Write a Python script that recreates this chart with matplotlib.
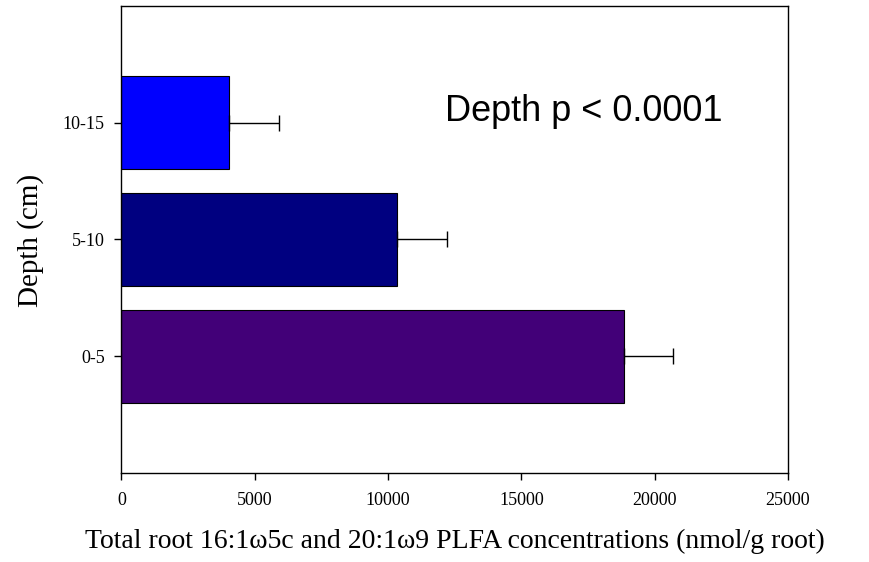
import matplotlib.pyplot as plt

depths = ['0-5', '5-10', '10-15']
plfa = [18840, 10320, 4045]
plfa_err = [1860, 1880, 1865]
bar_colors = ['#420078', '#000080', '#0000ff']

fig = plt.figure(figsize=(8.69, 5.62), dpi=100)
ax = fig.add_axes([0.1398, 0.1584, 0.767, 0.8309])

pos = list(range(len(depths)))
ax.barh(pos, plfa, height=0.8, color=bar_colors, edgecolor='black', linewidth=0.8,
        zorder=2)
ax.errorbar(plfa, pos, xerr=[[0] * len(plfa), plfa_err], fmt='none', ecolor='black',
            elinewidth=1, capsize=6, capthick=1, zorder=3)

ax.set_xlim(0, 25000)
ax.set_ylim(-1, 3)
ax.set_xticks([0, 5000, 10000, 15000, 20000, 25000])
ax.set_yticks(pos)
ax.set_yticklabels(depths)
ax.tick_params(direction='out', length=5, width=1, labelsize=13)
ax.tick_params(axis='x', pad=8.5)
ax.tick_params(axis='y', pad=7)
for lab in ax.get_xticklabels() + ax.get_yticklabels():
    lab.set_family('Liberation Serif')
for s in ax.spines.values():
    s.set_linewidth(1)

# axis titles placed by hand to sit where the original has them
fig.text(0.5233, (562 - 548) / 562,
         'Total root 16:1\u03c95c and 20:1\u03c99 PLFA concentrations (nmol/g root)',
         family='Liberation Serif', fontsize=20, ha='center', va='baseline')
fig.text(31 / 869, 1 - 240 / 562, 'Depth (cm)', family='Liberation Serif',
         fontsize=21, rotation=90, ha='center', va='center')

ax.text(12134, 2.013, 'Depth p < 0.0001', family='Liberation Sans', fontsize=26,
        va='baseline', ha='left')

fig.savefig('out.png', dpi=100)
